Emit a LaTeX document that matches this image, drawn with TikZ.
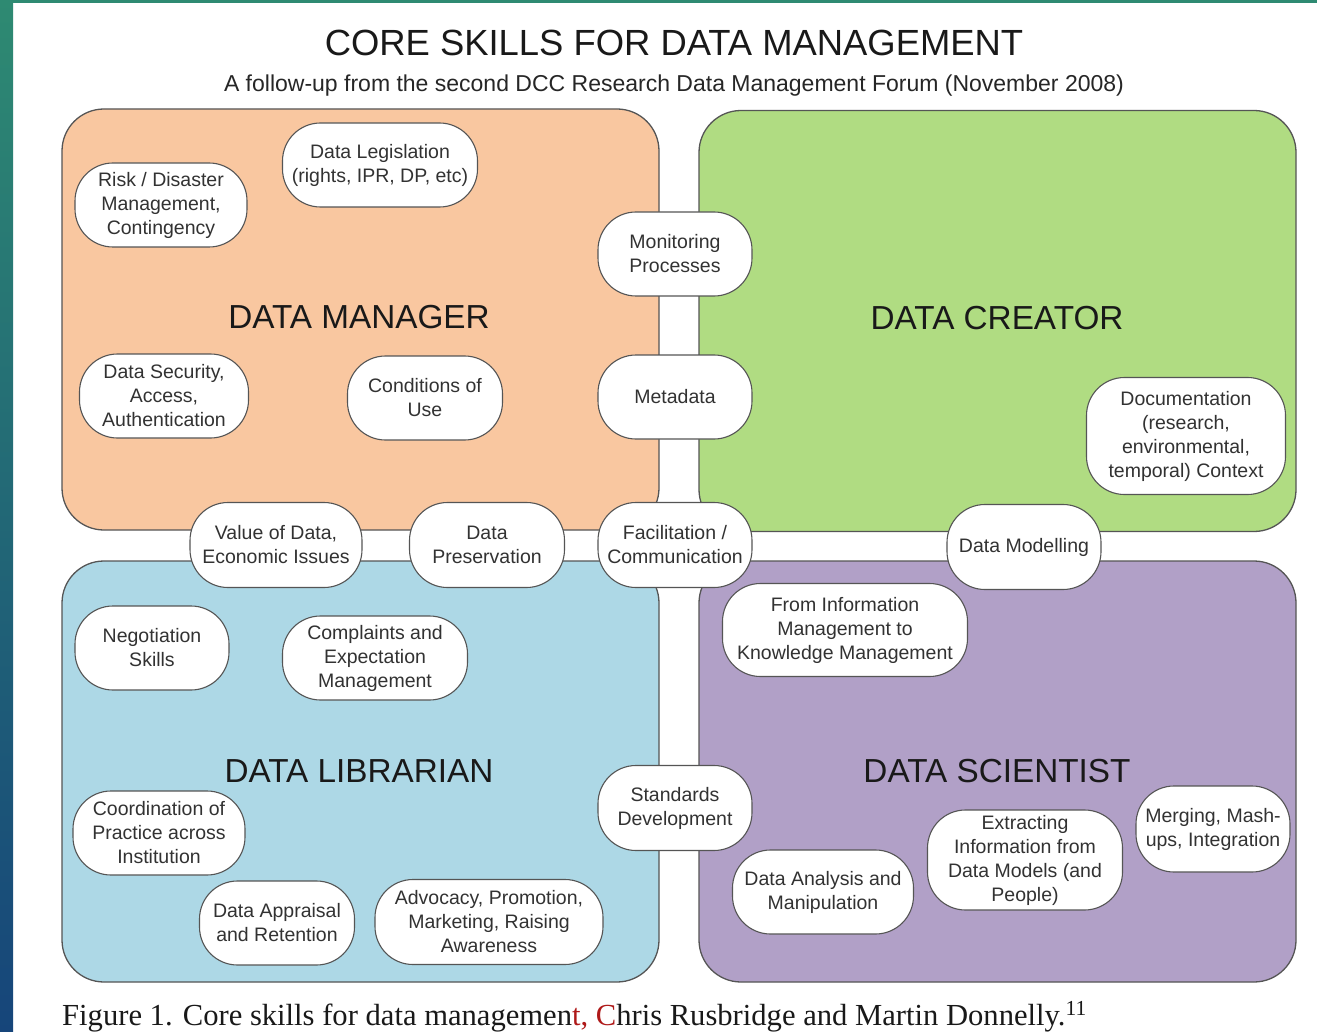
\documentclass[tikz,border=0pt]{standalone}
\usepackage{fontspec}
\setmainfont{Liberation Sans}
\newfontfamily\capserif{Liberation Serif}

\definecolor{mgrfill}{RGB}{249,199,160}
\definecolor{crtfill}{RGB}{176,220,130}
\definecolor{libfill}{RGB}{173,216,230}
\definecolor{scifill}{RGB}{177,160,199}
\definecolor{edgegray}{RGB}{85,85,85}
\definecolor{skilltxt}{RGB}{50,50,50}
\definecolor{stripA}{RGB}{46,138,114}
\definecolor{stripB}{RGB}{22,69,122}
\definecolor{capred}{RGB}{175,25,25}

\begin{document}
\begin{tikzpicture}[x=1pt,y=-1pt,
    pnode/.style={draw=edgegray,line width=1.3pt,rounded corners=42pt,minimum width=597pt,minimum height=421pt,inner sep=0pt},
    snode/.style={draw=edgegray,line width=1.1pt,fill=white,rounded corners=38pt,inner sep=0pt,align=center,text=skilltxt,
        font=\fontsize{19.5}{24}\selectfont,minimum width=154pt,minimum height=84pt},
    rnode/.style={anchor=base,inner sep=0pt,text=black!90,font=\fontsize{33.3}{40}\selectfont}]
    \useasboundingbox (0,0) rectangle (1317,1032);
    \fill[white] (0,0) rectangle (1317,1032);
    \shade[top color=stripA,bottom color=stripB] (0,0) rectangle (13,1032);
    \fill[stripA] (0,0) rectangle (1317,3);

    % title
    \node[anchor=base,inner sep=0pt,text=black!90,font=\fontsize{36.4}{42}\selectfont] (title) at (674,56) {CORE SKILLS FOR DATA MANAGEMENT};
    \node[anchor=base,inner sep=0pt,text=black!85,font=\fontsize{23}{26}\selectfont] (sub) at (674,92) {A follow-up from the second DCC Research Data Management Forum (November 2008)};

    % the four roles
    \node[pnode,fill=mgrfill] (mgr) at (360.5,319.5) {};
    \node[pnode,fill=crtfill] (crt) at (997.5,321) {};
    \node[pnode,fill=libfill] (lib) at (360.5,771.5) {};
    \node[pnode,fill=scifill] (sci) at (997.5,771.5) {};

    \node[rnode] (mgrlab) at (359,328) {DATA MANAGER};
    \node[rnode] (crtlab) at (997,330) {DATA CREATOR};
    \node[rnode] (liblab) at (359,782) {DATA LIBRARIAN};
    \node[rnode] (scilab) at (997,782) {DATA SCIENTIST};

    % skills
    \node[snode,minimum width=172pt] (risk) at (161,205) {Risk / Disaster\\Management,\\Contingency};
    \node[snode,minimum width=195pt] (legis) at (380,165) {Data Legislation\\(rights, IPR, DP, etc)};
    \node[snode] (monit) at (675,254) {Monitoring\\Processes};
    \node[snode] (meta) at (675,397) {Metadata};
    \node[snode,minimum width=169pt] (secur) at (164,396) {Data Security,\\Access,\\Authentication};
    \node[snode,minimum width=155pt] (cond) at (425,398) {Conditions of\\Use};
    \node[snode,minimum width=199pt,minimum height=117pt] (docu) at (1186,436) {Documentation\\(research,\\environmental,\\temporal) Context};
    \node[snode,minimum width=172pt,minimum height=85pt] (value) at (276,545) {Value of Data,\\Economic Issues};
    \node[snode,minimum width=155pt,minimum height=85pt] (pres) at (487,545) {Data\\Preservation};
    \node[snode,minimum height=85pt] (facil) at (675,545) {Facilitation /\\Communication};
    \node[snode,minimum height=85pt] (model) at (1024,547) {Data Modelling};
    \node[snode] (nego) at (152,648) {Negotiation\\Skills};
    \node[snode,minimum width=185pt] (compl) at (375,658) {Complaints and\\Expectation\\Management};
    \node[snode,minimum width=245pt,minimum height=93pt] (know) at (845,630) {From Information\\Management to\\Knowledge Management};
    \node[snode,minimum width=172pt] (coord) at (159,833) {Coordination of\\Practice across\\Institution};
    \node[snode,minimum height=85pt] (stand) at (675,808) {Standards\\Development};
    \node[snode,minimum width=155pt] (appr) at (277,923) {Data Appraisal\\and Retention};
    \node[snode,minimum width=228pt,minimum height=85pt] (advoc) at (489,922) {Advocacy, Promotion,\\Marketing, Raising\\Awareness};
    \node[snode,minimum width=181pt] (anal) at (823,892) {Data Analysis and\\Manipulation};
    \node[snode,minimum width=195pt,minimum height=100pt] (extr) at (1025,860) {Extracting\\Information from\\Data Models (and\\People)};
    \node[snode,minimum height=86pt] (merg) at (1213,829) {Merging, Mash-\\ups, Integration};

    % caption
    \node[anchor=base west,inner sep=0pt,text=black!90,font=\capserif\fontsize{30.6}{36}\selectfont] (cap) at (62,1025)
        {Figure 1. Core skills for data managemen\textcolor{capred}{t, C}hris Rusbridge and Martin Donnelly.\textsuperscript{11}};
\end{tikzpicture}
\end{document}
